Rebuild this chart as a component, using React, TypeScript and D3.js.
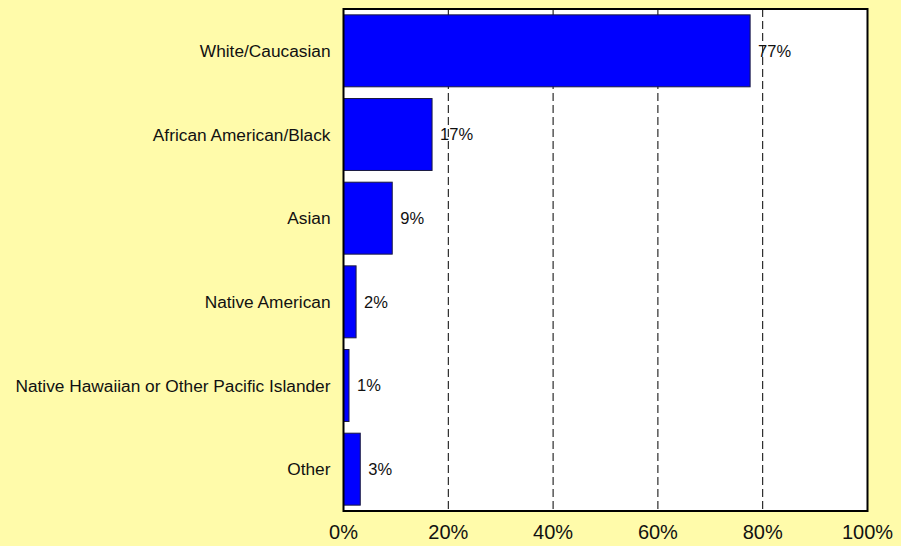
import React from "react";
import * as d3 from "d3";

const categories = [
  "White/Caucasian",
  "African American/Black",
  "Asian",
  "Native American",
  "Native Hawaiian or Other Pacific Islander",
  "Other",
];
const values = [0.776, 0.169, 0.093, 0.024, 0.0105, 0.032];
const valueLabels = ["77%", "17%", "9%", "2%", "1%", "3%"];
const xTicks = [0, 0.2, 0.4, 0.6, 0.8, 1.0];

const W = 901;
const H = 546;
const plot = { left: 343.5, right: 867.5, top: 9, bottom: 511 };

export default function App() {
  const x = d3.scaleLinear().domain([0, 1]).range([plot.left, plot.right]);
  const y = d3
    .scaleBand<string>()
    .domain(categories)
    .range([plot.top, plot.bottom])
    .paddingInner(0.14)
    .paddingOuter(0.07);
  const font = "'Liberation Sans', Arial, sans-serif";

  return (
    <div style={{ position: "fixed", left: 0, top: 0 }}>
      <svg width={W} height={H} style={{ display: "block" }}>
        <rect x={0} y={0} width={W} height={H} fill="#FFFBAA" />
        <rect
          x={plot.left}
          y={plot.top}
          width={plot.right - plot.left}
          height={plot.bottom - plot.top}
          fill="#FFFFFF"
        />
        {xTicks.slice(1, -1).map((t) => (
          <line
            key={t}
            x1={x(t)}
            x2={x(t)}
            y1={plot.top}
            y2={plot.bottom}
            stroke="#000"
            strokeWidth={1}
            strokeDasharray="8,4"
          />
        ))}
        {categories.map((c, i) => (
          <rect
            key={c}
            x={x(0)}
            y={y(c)!}
            width={x(values[i]) - x(0)}
            height={y.bandwidth()}
            fill="#0000FF"
            stroke="#1a1a40"
            strokeWidth={1}
          />
        ))}
        {categories.map((c, i) => (
          <text
            key={"v" + c}
            x={x(values[i]) + 8}
            y={y(c)! + y.bandwidth() / 2}
            dy="0.35em"
            fontFamily={font}
            fontSize={16.5}
            fill="#111"
          >
            {valueLabels[i]}
          </text>
        ))}
        <rect
          x={plot.left}
          y={plot.top}
          width={plot.right - plot.left}
          height={plot.bottom - plot.top}
          fill="none"
          stroke="#000"
          strokeWidth={2}
        />
        {categories.map((c) => (
          <text
            key={"c" + c}
            x={plot.left - 13}
            y={y(c)! + y.bandwidth() / 2}
            dy="0.35em"
            textAnchor="end"
            fontFamily={font}
            fontSize={17.3}
            fill="#111"
          >
            {c}
          </text>
        ))}
        {xTicks.map((t) => (
          <text
            key={"t" + t}
            x={x(t)}
            y={539}
            textAnchor="middle"
            fontFamily={font}
            fontSize={20}
            fill="#111"
          >
            {d3.format(".0%")(t)}
          </text>
        ))}
      </svg>
    </div>
  );
}
